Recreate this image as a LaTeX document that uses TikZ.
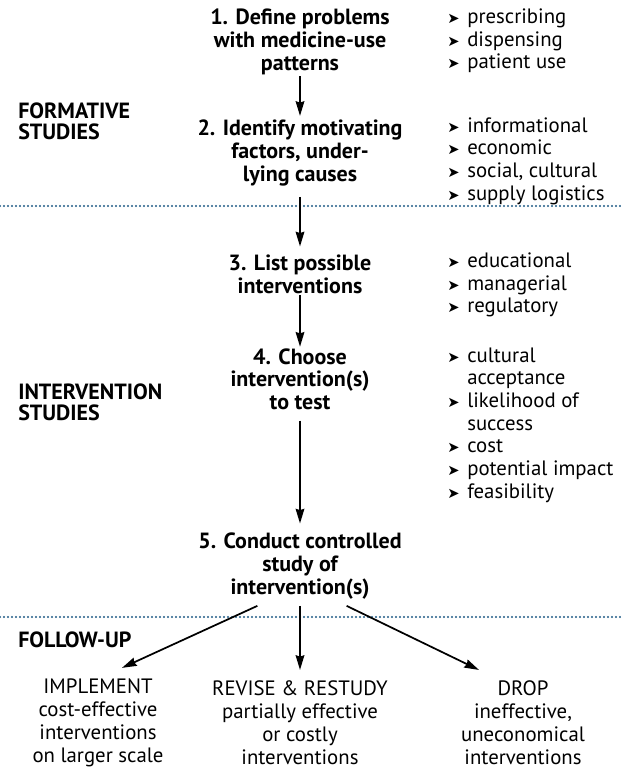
\documentclass[tikz,border=0pt]{standalone}
\usepackage{fontspec}
\setmainfont{PT Sans}
\newfontfamily\symf{DejaVu Sans}
\usetikzlibrary{arrows.meta,positioning}
\definecolor{dotblue}{HTML}{1F5C85}
\newlength{\bulw}\setlength{\bulw}{15pt}
\newcommand{\bul}{\makebox[\bulw][l]{\symf\fontsize{11}{11}\selectfont ➤}}
\newcommand{\ind}{\hspace*{\bulw}}
\tikzset{
  stepbox/.style={align=center, font=\fontsize{16.5}{17}\selectfont\bfseries, inner sep=1pt},
  listbox/.style={align=left, anchor=west, font=\fontsize{15.6}{17}\selectfont, inner sep=0pt},
  phase/.style={align=left, anchor=west, font=\fontsize{16.5}{16}\selectfont\bfseries, inner sep=0pt},
  outcome/.style={align=center, font=\fontsize{15.6}{17.3}\selectfont, inner sep=0pt},
  flow/.style={-{Stealth[length=11pt,width=6.5pt,inset=1pt]}, line width=1.3pt},
  divider/.style={dotblue, line width=1.6pt, dash pattern=on 0pt off 3pt, line cap=round},
}
\begin{document}
\begin{tikzpicture}[x=0.75pt, y=-0.75pt]
\useasboundingbox (0,0) rectangle (621,772);
% phases
\node[phase] (formative) at (18,121) {FORMATIVE\\STUDIES};
\node[phase] (intervention) at (18,402) {INTERVENTION\\STUDIES};
\node[phase] (followup) at (18,640) {FOLLOW-UP};
% dividers
\draw[divider] (0,206) -- (621,206);
\draw[divider] (0,617) -- (621,617);
% steps
\node[stepbox] (s1) at (300,42) {1. Define problems\\with medicine-use\\patterns};
\node[stepbox] (s2) at (300,153) {2. Identify motivating\\factors, under-\\lying causes};
\node[stepbox] (s3) at (300,274) {3. List possible\\interventions};
\node[stepbox] (s4) at (300,379) {4. Choose\\intervention(s)\\to test};
\node[stepbox] (s5) at (300,566) {5. Conduct controlled\\study of\\intervention(s)};
% lists
\node[listbox] (l1) at (447,41) {\bul prescribing\\\bul dispensing\\\bul patient use};
\node[listbox] (l2) at (447,161) {\bul informational\\\bul economic\\\bul social, cultural\\\bul supply logistics};
\node[listbox] (l3) at (447,285) {\bul educational\\\bul managerial\\\bul regulatory};
\node[listbox] (l4) at (447,425) {\bul cultural\\\ind acceptance\\\bul likelihood of\\\ind success\\\bul cost\\\bul potential impact\\\bul feasibility};
% outcomes
\node[outcome] (o1) at (98,723) {IMPLEMENT\\cost-effective\\interventions\\on larger scale};
\node[outcome] (o2) at (300,723) {REVISE \& RESTUDY\\partially effective\\or costly\\interventions};
\node[outcome] (o3) at (523,723) {DROP\\ineffective,\\uneconomical\\interventions};
% arrows
\draw[flow, shorten >=2pt] (s1) -- (s2);
\draw[flow, shorten <=7pt, shorten >=5pt] (s2) -- (s3);
\draw[flow] (s3) -- (s4);
\draw[flow, shorten <=7pt, shorten >=6pt] (s4) -- (s5);
\draw[flow] ([xshift=-32pt,yshift=-4pt]s5.south) -- ([xshift=18pt,yshift=8pt]o1.north);
\draw[flow] ([yshift=-4pt]s5.south) -- ([yshift=8pt]o2.north);
\draw[flow] ([xshift=35pt,yshift=-4pt]s5.south) -- ([xshift=-33pt,yshift=8pt]o3.north);
\end{tikzpicture}
\end{document}
